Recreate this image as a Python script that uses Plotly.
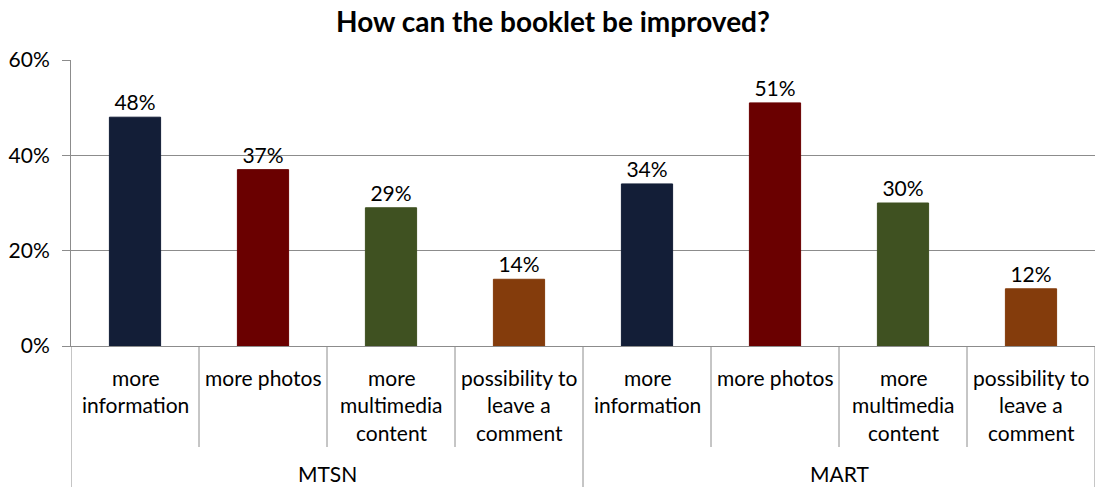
import plotly.graph_objects as go

# Survey answers, percent of respondents, per site
groups = ["MTSN", "MART"]
options = [
    ["more", "information"],
    ["more photos"],
    ["more", "multimedia", "content"],
    ["possibility to", "leave a", "comment"],
]
mtsn_values = [48, 37, 29, 14]
mart_values = [34, 51, 30, 12]
option_colors = ["#131e37", "#6a0000", "#3f5121", "#843c0c"]
y_tick_values = [0, 20, 40, 60]

W, H = 1097, 487
M_L, M_R, M_T, M_B = 71, 2, 60, 141
PLOT_H = H - M_T - M_B
FONT = "Lato, 'Open Sans', sans-serif"
GRID = "#8c8c8c"
TXT = 21


def paper_y(px):
    """Convert a pixel row (from the top of the page) into paper y."""
    return (H - M_B - px) / PLOT_H


values = mtsn_values + mart_values
x_pos = list(range(len(values)))
colors = option_colors * len(groups)

fig = go.Figure(
    go.Bar(
        x=x_pos,
        y=[v / 100 for v in values],
        width=0.4,
        marker=dict(color=colors, line=dict(color=colors, width=1)),
        text=[f"{v}%" for v in values],
        textposition="outside",
        textfont=dict(family=FONT, size=TXT, color="#000000"),
        cliponaxis=False,
        hoverinfo="skip",
    )
)

annotations = []
shapes = []
n_opt = len(options)

# Category labels, one line per annotation for Excel-like line spacing
for gi, g in enumerate(groups):
    for oi, lines in enumerate(options):
        xi = gi * n_opt + oi
        for li, line in enumerate(lines):
            annotations.append(dict(
                x=xi, y=paper_y(377 + li * 27.5), xref="x", yref="paper",
                text=line, showarrow=False, xanchor="center", yanchor="middle",
                font=dict(family=FONT, size=TXT, color="#000000"),
            ))
    annotations.append(dict(
        x=gi * n_opt + (n_opt - 1) / 2, y=paper_y(473), xref="x", yref="paper",
        text=g, showarrow=False, xanchor="center", yanchor="middle",
        font=dict(family=FONT, size=TXT, color="#000000"),
    ))
    # short dividers between options inside a group
    for oi in range(1, n_opt):
        xd = gi * n_opt + oi - 0.5
        shapes.append(dict(type="line", xref="x", yref="paper",
                           x0=xd, x1=xd, y0=0, y1=paper_y(447),
                           line=dict(color=GRID, width=1)))

# long dividers at the group boundaries
for gi in range(len(groups) + 1):
    xd = gi * n_opt - 0.5
    shapes.append(dict(type="line", xref="x", yref="paper",
                       x0=xd, x1=xd, y0=0, y1=paper_y(H),
                       line=dict(color=GRID, width=1)))

fig.update_layout(
    width=W, height=H,
    margin=dict(l=M_L, r=M_R, t=M_T, b=M_B),
    paper_bgcolor="white", plot_bgcolor="white",
    showlegend=False,
    title=dict(
        text="<b>How can the booklet be improved?</b>",
        x=553 / W, xref="container", xanchor="center",
        y=1 - 22 / H, yref="container", yanchor="middle",
        font=dict(family=FONT, size=28, color="#000000"),
    ),
    xaxis=dict(
        range=[-0.5, len(values) - 0.5],
        showticklabels=False, ticks="",
        showgrid=False, zeroline=False,
        showline=True, linecolor=GRID, linewidth=1,
    ),
    yaxis=dict(
        range=[0, 0.6],
        tickvals=[v / 100 for v in y_tick_values],
        ticktext=[f"{v}%" for v in y_tick_values],
        ticks="outside", ticklen=8, tickcolor=GRID,
        ticklabelstandoff=8,
        tickfont=dict(family=FONT, size=TXT, color="#000000"),
        showgrid=True, gridcolor=GRID, gridwidth=1,
        zeroline=False,
        showline=True, linecolor=GRID, linewidth=1,
    ),
    annotations=annotations,
    shapes=shapes,
)

fig.write_html("out.html")
